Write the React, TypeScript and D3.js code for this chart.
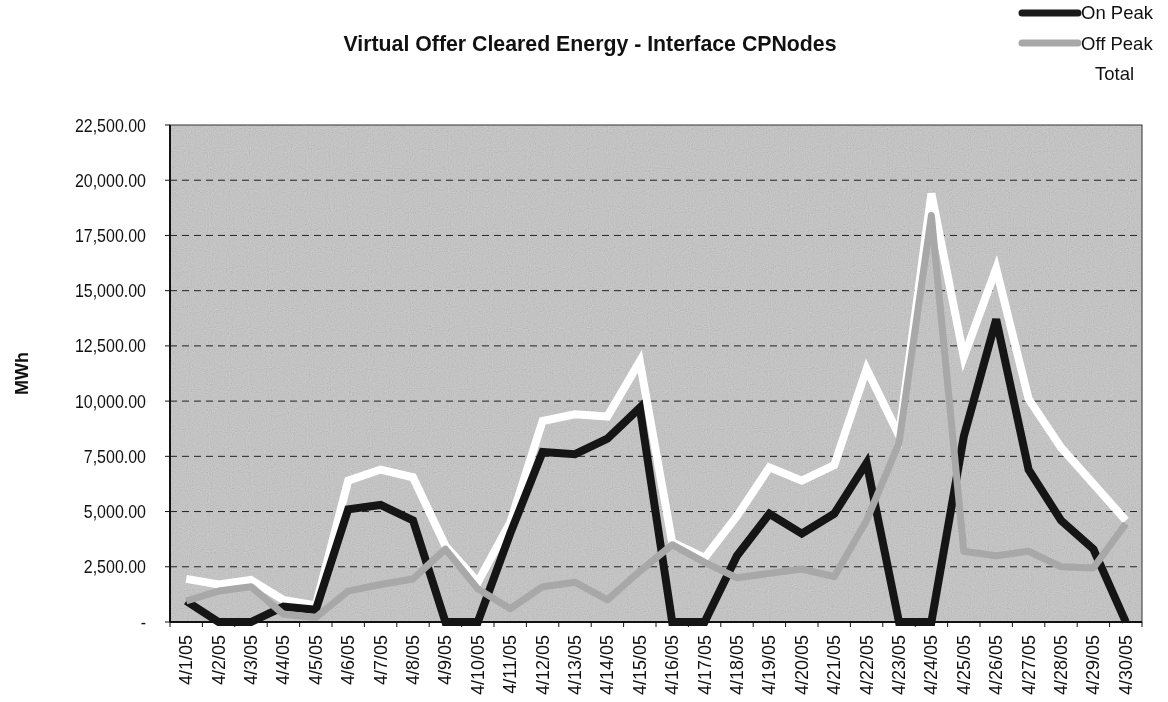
import React from "react";
import * as d3 from "d3";

const dates: string[] = [
  "4/1/05", "4/2/05", "4/3/05", "4/4/05", "4/5/05", "4/6/05", "4/7/05", "4/8/05", "4/9/05", "4/10/05",
  "4/11/05", "4/12/05", "4/13/05", "4/14/05", "4/15/05", "4/16/05", "4/17/05", "4/18/05", "4/19/05", "4/20/05",
  "4/21/05", "4/22/05", "4/23/05", "4/24/05", "4/25/05", "4/26/05", "4/27/05", "4/28/05", "4/29/05", "4/30/05",
];

const onPeak: number[] = [
  950, 0, 0, 700, 550, 5100, 5300, 4600, 0, 0,
  4000, 7700, 7600, 8300, 9700, 0, 0, 3000, 4900, 4000,
  4900, 7200, 0, 0, 8400, 13700, 6900, 4600, 3300, 0,
];

const offPeak: number[] = [
  950, 1400, 1600, 350, 200, 1400, 1700, 1950, 3300, 1500,
  600, 1600, 1800, 1000, 2300, 3500, 2700, 2000, 2200, 2400,
  2050, 4600, 8100, 18400, 3200, 3000, 3200, 2500, 2450, 4450,
];

const total: number[] = [
  1950, 1700, 1900, 1000, 750, 6400, 6900, 6550, 3450, 1800,
  4500, 9100, 9400, 9300, 11800, 3600, 2900, 4800, 7000, 6400,
  7100, 11450, 8450, 19400, 12000, 16000, 10100, 7900, 6250, 4600,
];

const yTicks: number[] = [0, 2500, 5000, 7500, 10000, 12500, 15000, 17500, 20000, 22500];
const yTickLabels: string[] = ["-", "2,500.00", "5,000.00", "7,500.00", "10,000.00", "12,500.00", "15,000.00", "17,500.00", "20,000.00", "22,500.00"];

const seriesNames: string[] = ["On Peak", "Off Peak", "Total"];

const W = 1168;
const H = 702;
const left = 170;
const right = 1142;
const bottom = 622;
const top = 125;

export default function App() {
  const x = d3.scalePoint<string>().domain(dates).range([left, right]).padding(0.5);
  const y = d3.scaleLinear().domain([0, 22500]).range([bottom, top]);

  const mk = (vals: number[]) =>
    d3
      .line<number>()
      .x((_, i) => x(dates[i]) as number)
      .y((v) => y(v))(vals) as string;

  const font = "Arial, 'Liberation Sans', sans-serif";
  const step = x.step();

  return (
    <svg
      width={W}
      height={H}
      style={{ position: "absolute", left: 0, top: 0, background: "#fff" }}
      fontFamily={font}
    >
      <defs>
        <filter id="grain" x="0" y="0" width="100%" height="100%">
          <feTurbulence type="fractalNoise" baseFrequency="0.95" numOctaves="1" seed="3" result="n" />
          <feColorMatrix
            type="matrix"
            values="0.33 0.33 0.33 0 0  0.33 0.33 0.33 0 0  0.33 0.33 0.33 0 0  0 0 0 0 1"
          />
          <feComponentTransfer>
            <feFuncR type="linear" slope="1.8" intercept="-0.2" />
            <feFuncG type="linear" slope="1.8" intercept="-0.2" />
            <feFuncB type="linear" slope="1.8" intercept="-0.2" />
          </feComponentTransfer>
        </filter>
      </defs>

      {/* title */}
      <text x={590} y={51} textAnchor="middle" fontSize={21.3} fontWeight="bold" fill="#111">
        Virtual Offer Cleared Energy - Interface CPNodes
      </text>

      {/* legend */}
      <g>
        <line x1={1022} x2={1078} y1={13} y2={13} stroke="#1a1a1a" strokeWidth={7} strokeLinecap="round" />
        <text x={1081} y={19} fontSize={18.5} fill="#111">{seriesNames[0]}</text>
        <line x1={1022} x2={1078} y1={43} y2={43} stroke="#a8a8a8" strokeWidth={7} strokeLinecap="round" />
        <text x={1081} y={50} fontSize={18.5} fill="#111">{seriesNames[1]}</text>
        <line x1={1022} x2={1078} y1={73} y2={73} stroke="#ffffff" strokeWidth={7} />
        <text x={1095} y={80} fontSize={18.5} fill="#111">{seriesNames[2]}</text>
      </g>

      {/* plot background */}
      <rect x={left} y={top} width={right - left} height={bottom - top} fill="#cbcbcb" />
      <rect
        x={left}
        y={top}
        width={right - left}
        height={bottom - top}
        filter="url(#grain)"
        opacity={0.28}
        style={{ mixBlendMode: "multiply" }}
      />

      {/* gridlines */}
      {yTicks.slice(1, -1).map((t) => (
        <line key={t} x1={left} x2={right} y1={y(t)} y2={y(t)} stroke="#222" strokeWidth={1} strokeDasharray="7 5" />
      ))}

      {/* frame */}
      <rect x={left} y={top} width={right - left} height={bottom - top} fill="none" stroke="#333" strokeWidth={1} />
      <line x1={left} x2={left} y1={top} y2={bottom} stroke="#111" strokeWidth={2} />
      <line x1={left} x2={right} y1={bottom} y2={bottom} stroke="#111" strokeWidth={2} />

      {/* y ticks */}
      {yTicks.map((t, i) => (
        <g key={t}>
          <line x1={left - 5} x2={left} y1={y(t)} y2={y(t)} stroke="#111" strokeWidth={1} />
          <text
            transform={`translate(146, ${y(t) + 6.5}) scale(1, 1.12)`}
            textAnchor="end"
            fontSize={16}
            fill="#111"
          >
            {yTickLabels[i]}
          </text>
        </g>
      ))}
      <text
        transform={`translate(28, ${(top + bottom) / 2}) rotate(-90)`}
        textAnchor="middle"
        fontSize={18}
        fontWeight="bold"
        fill="#111"
      >
        MWh
      </text>

      {/* x ticks */}
      {dates.map((d) => (
        <line
          key={"t" + d}
          x1={(x(d) as number) - step / 2}
          x2={(x(d) as number) - step / 2}
          y1={bottom}
          y2={bottom + 5}
          stroke="#111"
          strokeWidth={1}
        />
      ))}
      <line x1={right} x2={right} y1={bottom} y2={bottom + 5} stroke="#111" strokeWidth={1} />
      {dates.map((d) => (
        <text
          key={d}
          transform={`translate(${(x(d) as number) + 6}, 635) rotate(-90)`}
          textAnchor="end"
          fontSize={18}
          fill="#111"
        >
          {d}
        </text>
      ))}

      {/* series */}
      <path d={mk(total)} fill="none" stroke="#ffffff" strokeWidth={8} strokeLinejoin="miter" />
      <path d={mk(onPeak)} fill="none" stroke="#151515" strokeWidth={8} strokeLinejoin="miter" />
      <path d={mk(offPeak)} fill="none" stroke="#a8a8a8" strokeWidth={7} strokeLinejoin="round" />
    </svg>
  );
}
